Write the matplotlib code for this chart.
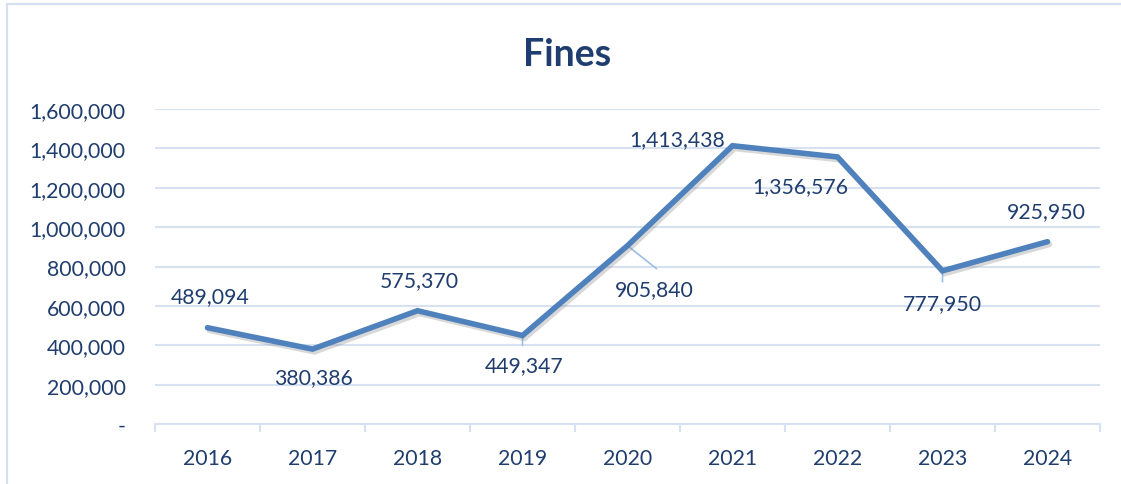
import matplotlib
matplotlib.use("Agg")
import matplotlib.pyplot as plt
import matplotlib.patheffects as pe
from matplotlib.patches import Rectangle
from matplotlib.ticker import FuncFormatter, MultipleLocator

years = ["2016", "2017", "2018", "2019", "2020", "2021", "2022", "2023", "2024"]
fines = [489094, 380386, 575370, 449347, 905840, 1413438, 1356576, 777950, 925950]

# label offsets from each point, in pixels (dx, dy)
label_offsets = [(3, 32), (1, -28), (2, 31), (2, -30), (27, -43),
                 (-55, 7), (-37, -29), (0, -32), (-1, 31)]
# short leader lines (end offset in pixels) for some labels
leaders = {3: (0, -10), 4: (29, -23), 7: (0, -11)}

TEXT = "#1F3D6E"
GRID = "#D6E2F2"
LINE = "#4F81BD"
FONT = ["Lato", "DejaVu Sans"]
FS = 15.3

plt.rcParams["font.family"] = FONT

W, H = 1121, 485
fig = plt.figure(figsize=(W / 100, H / 100), dpi=100)
fig.patch.set_facecolor("white")

# outer chart frame
fig.patches.append(Rectangle((7 / W, -0.1), 1.2, 1 - 5 / H + 0.1,
                             transform=fig.transFigure, fill=False,
                             edgecolor="#D3E0F2", linewidth=1.6))

ax = fig.add_axes([155 / W, 60 / H, (1100 - 155) / W, (425 - 110) / H])
x = list(range(len(years)))
ax.set_xlim(-0.5, len(years) - 0.5)
ax.set_ylim(0, 1600000)

ax.yaxis.set_major_locator(MultipleLocator(200000))
ax.yaxis.set_major_formatter(FuncFormatter(lambda v, p: "-" if v == 0 else f"{int(v):,}"))
ax.grid(axis="y", color=GRID, linewidth=1.5)
ax.set_axisbelow(True)

for s in ["top", "right", "left"]:
    ax.spines[s].set_visible(False)
ax.spines["bottom"].set_color(GRID)
ax.spines["bottom"].set_linewidth(1.5)

ax.set_xticks(x)
ax.set_xticklabels(years)
ax.set_xticks([i - 0.5 for i in range(len(years) + 1)], minor=True)
ax.tick_params(axis="x", which="major", length=0, pad=17, labelsize=FS, labelcolor=TEXT)
ax.tick_params(axis="x", which="minor", length=6, width=1.5, color=GRID, direction="out")
ax.tick_params(axis="y", length=0, pad=21, labelsize=FS, labelcolor=TEXT)

ax.plot(x, fines, color=LINE, linewidth=4.0, solid_capstyle="round",
        solid_joinstyle="miter",
        path_effects=[pe.SimpleLineShadow(offset=(1.5, -2.0), shadow_color="#808080", alpha=0.3),
                      pe.Normal()], zorder=3)

for i, (v, (dx, dy)) in enumerate(zip(fines, label_offsets)):
    if i in leaders:
        ex, ey = leaders[i]
        ax.annotate("", xy=(i, v), xytext=(ex, ey), textcoords="offset pixels",
                    arrowprops=dict(arrowstyle="-", color="#9DBDE6", lw=1.2,
                                    shrinkA=0, shrinkB=0), zorder=2)
    ax.annotate(f"{v:,}", xy=(i, v), xytext=(dx, dy), textcoords="offset pixels",
                ha="center", va="center", fontsize=FS, color=TEXT, zorder=4)

fig.text(567 / W, 1 - 55 / H, "Fines", ha="center", va="center",
         fontsize=27, fontweight="bold", color=TEXT)

fig.savefig("out.png", dpi=100, facecolor="white")
